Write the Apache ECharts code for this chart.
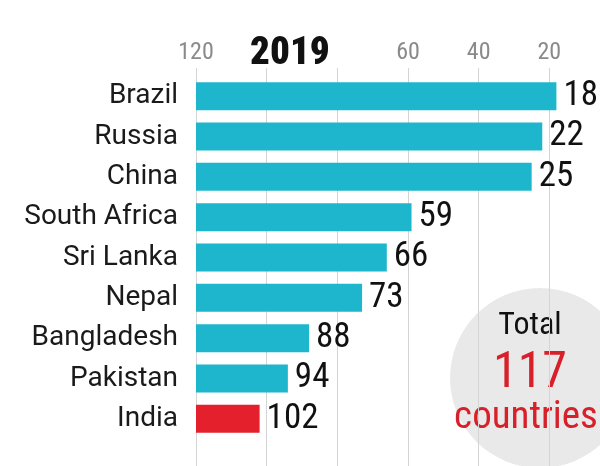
<!DOCTYPE html>
<html><head><meta charset="utf-8">
<script src="https://cdn.jsdelivr.net/npm/echarts@6/dist/echarts.min.js"></script>
<style>html,body{margin:0;padding:0;background:#fff}#c{width:600px;height:466px}</style>
</head><body><div id="c"></div>
<script>
const countries = ['Brazil','Russia','China','South Africa','Sri Lanka','Nepal','Bangladesh','Pakistan','India'];
const ranks = [18,22,25,59,66,73,88,94,102];
const tickLabels = {120:'120',100:'',80:'',60:'60',40:'40',20:'20',0:''};
const axisMax = 120;
const COND = "'Roboto Condensed','Liberation Sans Narrow','DejaVu Sans Condensed',sans-serif";
const REG = "Roboto,'Noto Sans',sans-serif";
const TEAL = '#1db6cc', RED = '#e3202b';

const chart = echarts.init(document.getElementById('c'));
chart.setOption({
  animation:false,
  backgroundColor:'#fff',
  graphic:[
    {type:'circle', shape:{cx:540, cy:378, r:90}, style:{fill:'rgba(0,0,0,0.085)'}, z:-10},
    {type:'text', x:250, y:54, style:{text:'2019', font:"900 39px "+COND, fill:'#111', textVerticalAlign:'middle'}},
    {type:'text', x:530, y:326, style:{text:'Total', font:"32px "+COND, fill:'#111', textAlign:'center', textVerticalAlign:'middle'}},
    {type:'text', x:530, y:374, style:{text:'117', font:"50px "+COND, fill:'#d8202a', textAlign:'center', textVerticalAlign:'middle'}},
    {type:'text', x:526, y:418, style:{text:'countries', font:"39px "+COND, fill:'#d8202a', textAlign:'center', textVerticalAlign:'middle'}}
  ],
  grid:[
    {left:196, right:-20, top:76, bottom:27, outerBoundsMode:'none', containLabel:false},
    {left:196, right:-20, top:68, bottom:0, outerBoundsMode:'none', containLabel:false}
  ],
  xAxis:[
    {gridIndex:0, type:'value', position:'top', inverse:true, min:0, max:axisMax, interval:20,
     axisLine:{show:false}, axisTick:{show:false}, splitLine:{show:false},
     axisLabel:{margin:11, fontSize:24, color:'#8a8a8a', fontFamily:COND, formatter:v=>tickLabels[v] ?? ''}},
    {gridIndex:1, type:'value', inverse:true, min:0, max:axisMax, interval:20,
     axisLine:{show:false}, axisTick:{show:false}, axisLabel:{show:false},
     splitLine:{show:true, lineStyle:{color:'#d4d4d4', width:1}}}
  ],
  yAxis:[
    {gridIndex:0, type:'category', data:countries, inverse:true,
     axisLine:{show:false}, axisTick:{show:false},
     axisLabel:{margin:18, fontSize:28, color:'#1a1a1a', fontFamily:REG}},
    {gridIndex:1, type:'value', show:false}
  ],
  series:[
    {type:'bar', stack:'r', xAxisIndex:0, yAxisIndex:0, barWidth:28, silent:true,
     itemStyle:{color:'transparent'}, data:ranks},
    {type:'bar', stack:'r', xAxisIndex:0, yAxisIndex:0, barWidth:28,
     data:ranks.map((v,i)=>({value:axisMax - v, itemStyle:{color: countries[i]==='India'?RED:TEAL}})),
     label:{show:true, position:'right', distance:7, fontSize:35, color:'#111', fontFamily:COND,
            formatter:p=>String(ranks[p.dataIndex])}}
  ]
});
</script></body></html>
